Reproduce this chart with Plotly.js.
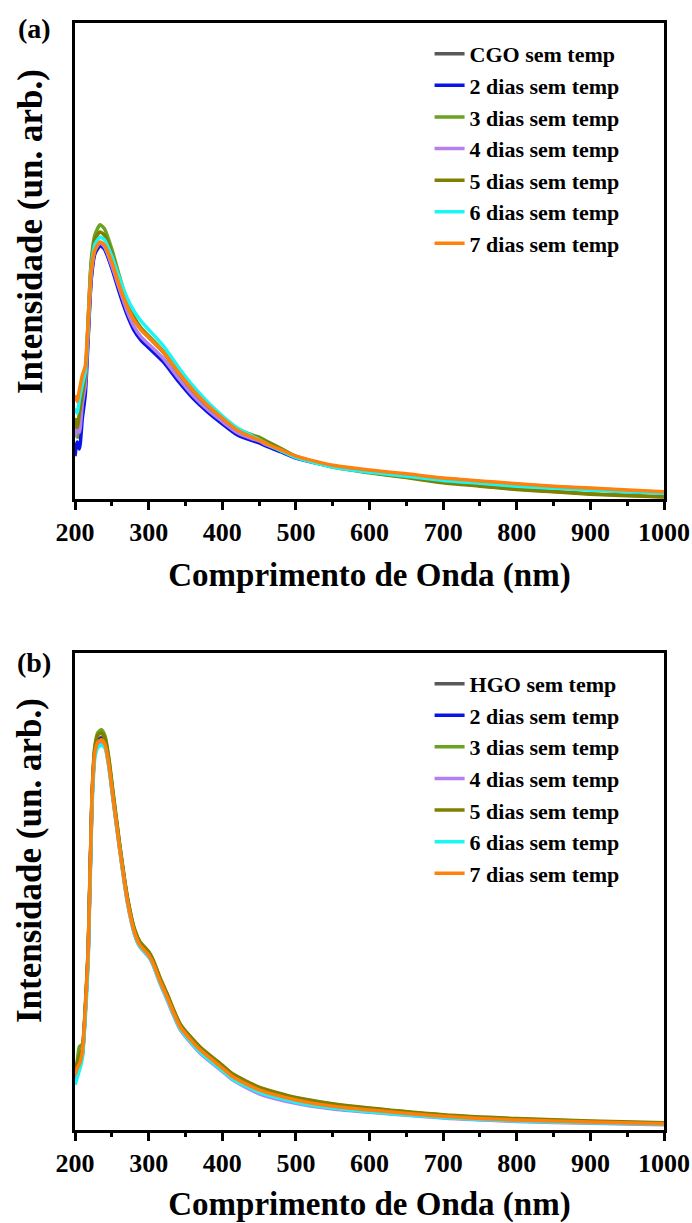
<!DOCTYPE html>
<html>
<head>
<meta charset="utf-8">
<script src="https://cdn.plot.ly/plotly-3.0.1.min.js"></script>
<style>
html,body{margin:0;padding:0;background:#fff;}
#chart{width:692px;height:1223px;}
</style>
</head>
<body>
<div id="chart"></div>
<script>
// ---------- Panel (a) ----------
const xA = [200,203,206,210,214,218,222,227,234,240,250,260,270,280,290,300,320,340,360,380,400,420,440,450,460,480,500,550,600,650,700,750,800,850,900,950,1000];
const aCGO    = [14,16,13,19,24,35,46.5,52,53.5,52.8,48.8,44,39.5,36,33.8,32.3,29.2,25.2,21.6,18.6,16.1,13.8,12.5,12,11.3,10.1,8.8,6.9,5.8,5.0,4.2,3.6,3.0,2.5,2.1,1.7,1.3];
const aDia2   = [9,12,10.5,17,22,34,46,51.5,53.2,52.5,48.5,43.5,39,35.5,33.3,31.8,28.8,24.8,21.2,18.3,15.8,13.5,12.3,11.8,11.1,9.9,8.6,6.8,5.7,4.9,4.1,3.5,2.9,2.4,2.0,1.6,1.3];
const aDia3   = [15,13,17,21,25,38,50,55.5,57.6,56.8,52.5,47,42,38.3,35.9,34.3,31.0,26.8,23.0,19.8,17.2,14.8,13.5,13.0,12.2,10.6,9.0,6.8,5.6,4.6,3.5,2.8,2.1,1.6,1.1,0.8,0.5];
const aDia4   = [13,15,14,20,24,35.5,47,52.2,53.8,53,49,44.3,39.8,36.3,34,32.5,29.5,25.5,21.8,18.8,16.3,14.0,12.7,12.2,11.4,10.2,8.9,7.0,5.9,5.1,4.3,3.7,3.1,2.6,2.2,1.8,1.4];
const aDia5   = [17,15,18,22,26,38,49.5,54.5,56.1,55.4,51.5,46.3,41.5,38,35.6,34,30.8,26.6,22.8,19.6,17.0,14.6,13.3,12.8,12.0,10.5,8.9,6.7,5.5,4.5,3.4,2.7,2.0,1.5,1.0,0.7,0.4];
const aDia6   = [19,18,21,24,27,37,48.5,53.5,55,54.5,51,46.5,42.5,39.5,37.3,35.6,32.2,27.8,23.8,20.4,17.5,15.0,13.3,12.5,11.6,10.1,8.7,6.7,5.6,4.8,3.9,3.3,2.7,2.3,1.9,1.6,1.2];
const aDia7   = [21.8,20.5,23,26,28,37.6,48,52.3,54,53.4,49.8,45,40.8,37.6,35.5,34,30.9,26.7,22.9,19.7,17,14.5,13,12.4,11.6,10.3,9,7.1,6.1,5.3,4.4,3.8,3.2,2.7,2.3,1.9,1.5];

// ---------- Panel (b) ----------
const xB = [200,203,206,210,214,218,223,227,231,236,241,246,252,261,271,281,288,300,306,315,325,343,370,400,415,450,500,550,600,700,800,900,1000];
const bHGO  = [10.5,12.5,14,16,25,37.5,69,79.5,81.8,82.3,81.2,77,69.6,59,48.5,41.6,39.1,37,35.2,31.6,28.1,21.8,17,13.1,11.2,8.5,6.3,5.0,4.2,2.9,2.1,1.7,1.3];
const bDia2 = [10,12,13.5,15.8,24.8,37.2,68.8,79.3,81.6,82,81,76.8,69.4,58.9,48.4,41.5,39,36.9,35.1,31.5,28.0,21.7,16.9,13.0,11.1,8.4,6.2,4.9,4.1,2.8,2.0,1.6,1.2];
const bDia3 = [12,14.5,17.5,18,26,38.5,70,80.5,83.3,83.9,82.5,78,70.5,59.6,49,42,39.5,37.3,35.6,32,28.5,22.1,17.3,13.5,11.6,8.9,6.7,5.4,4.5,3.1,2.3,1.8,1.4];
const bDia4 = [11,12.8,14.2,16.2,25,37.4,68.9,79,81,81.3,80.3,76.2,69,58.4,47.8,40.9,38.4,36.3,34.6,30.9,27.3,21.0,16.1,12.3,10.4,7.6,5.6,4.4,3.7,2.5,1.8,1.4,1.1];
const bDia5 = [12.5,14,15.5,17,25.8,38.3,69.8,80.2,82.8,83.2,82,77.6,70.2,59.4,48.9,42,39.5,37.4,35.7,32.1,28.6,22.2,17.4,13.6,11.7,9.0,6.8,5.5,4.6,3.2,2.4,1.9,1.5];
const bDia6 = [9.5,11,12.5,15,23.5,35.5,67,78,80.2,80.7,80,76,68.8,58.4,47.9,41.0,38.5,36.4,34.7,31.0,27.5,21.2,16.3,12.5,10.6,7.9,5.8,4.6,3.8,2.6,1.9,1.5,1.2];
const bDia7 = [11.5,13.0,13.8,16.4,25.2,37.7,69.2,79.2,81.3,81.8,80.7,76.5,69.2,58.7,48.2,41.3,38.8,36.7,35.0,31.4,27.9,21.6,16.8,13.0,11.1,8.4,6.3,5.0,4.2,2.9,2.1,1.7,1.3];

const namesA = ["CGO sem temp","2 dias sem temp","3 dias sem temp","4 dias sem temp","5 dias sem temp","6 dias sem temp","7 dias sem temp"];
const namesB = ["HGO sem temp","2 dias sem temp","3 dias sem temp","4 dias sem temp","5 dias sem temp","6 dias sem temp","7 dias sem temp"];
const colors = ["#595959","#0a14e6","#6aa222","#b47ff0","#7f7f00","#1af5f5","#ff800a"];
const xTicks = [200,300,400,500,600,700,800,900,1000];
const xTickText = ["200","300","400","500","600","700","800","900","1000"];
const xTitle = "Comprimento de Onda (nm)";
const yTitle = "Intensidade (un. arb.)";

const FONT = "Liberation Serif";
const seriesA = [aCGO,aDia2,aDia3,aDia4,aDia5,aDia6,aDia7];
const seriesB = [bHGO,bDia2,bDia3,bDia4,bDia5,bDia6,bDia7];

const traces = [];
seriesA.forEach((ys,i)=>traces.push({x:xA,y:ys,name:namesA[i],type:'scatter',mode:'lines',
  line:{color:colors[i],width:3.5,shape:'spline',smoothing:0.6},xaxis:'x',yaxis:'y',legend:'legend'}));
seriesB.forEach((ys,i)=>traces.push({x:xB,y:ys,name:namesB[i],type:'scatter',mode:'lines',
  line:{color:colors[i],width:3.5,shape:'spline',smoothing:0.6},xaxis:'x2',yaxis:'y2',legend:'legend2'}));

function xax(anchor){
  return {anchor:anchor,range:[200,1000],tickvals:xTicks,ticktext:xTickText,ticks:'outside',ticklen:8,tickwidth:3,
    tickcolor:'#000',showline:true,linewidth:3,linecolor:'#000',mirror:true,showgrid:false,zeroline:false,
    tickfont:{family:FONT,size:26,color:'#000',weight:700},
    minor:{dtick:50,tick0:250,ticks:'outside',ticklen:4,tickwidth:3,tickcolor:'#000',showgrid:false},
    title:{text:xTitle,font:{family:FONT,size:33,color:'#000',weight:700},standoff:17}};
}
function yax(anchor,domain){
  return {anchor:anchor,domain:domain,range:[0,100],showticklabels:false,ticks:'',showline:true,linewidth:3,
    linecolor:'#000',mirror:true,showgrid:false,zeroline:false};
}
const legFont = {family:FONT,size:22,color:'#000',weight:700};
const titleFont = {family:FONT,size:35,color:'#000',weight:700};
const layout = {
  width:692,height:1223,margin:{l:75,r:28,t:23,b:93},
  paper_bgcolor:'#fff',plot_bgcolor:'#fff',showlegend:true,
  font:{family:FONT,color:'#000'},
  xaxis:xax('y'),yaxis:yax('x',[0.570,1.0]),
  xaxis2:xax('y2'),yaxis2:yax('x2',[0,0.4309]),
  legend:{x:0.602,y:0.991,xanchor:'left',yanchor:'top',bgcolor:'rgba(0,0,0,0)',font:legFont,tracegroupgap:0},
  legend2:{x:0.602,y:0.422,xanchor:'left',yanchor:'top',bgcolor:'rgba(0,0,0,0)',font:legFont,tracegroupgap:0},
  annotations:[
    {text:yTitle,xref:'paper',yref:'paper',x:-0.0764,y:0.8112,xanchor:'center',yanchor:'middle',textangle:-90,
     showarrow:false,font:titleFont},
    {text:yTitle,xref:'paper',yref:'paper',x:-0.0764,y:0.243,xanchor:'center',yanchor:'middle',textangle:-90,
     showarrow:false,font:titleFont},
    {text:'(a)',xref:'paper',yref:'paper',x:-0.037,y:0.995,xanchor:'right',yanchor:'middle',showarrow:false,
     font:{family:FONT,size:28,color:'#000',weight:700}},
    {text:'(b)',xref:'paper',yref:'paper',x:-0.037,y:0.4227,xanchor:'right',yanchor:'middle',showarrow:false,
     font:{family:FONT,size:28,color:'#000',weight:700}}
  ]
};
Plotly.newPlot('chart',traces,layout,{displayModeBar:false});
</script>
</body>
</html>
